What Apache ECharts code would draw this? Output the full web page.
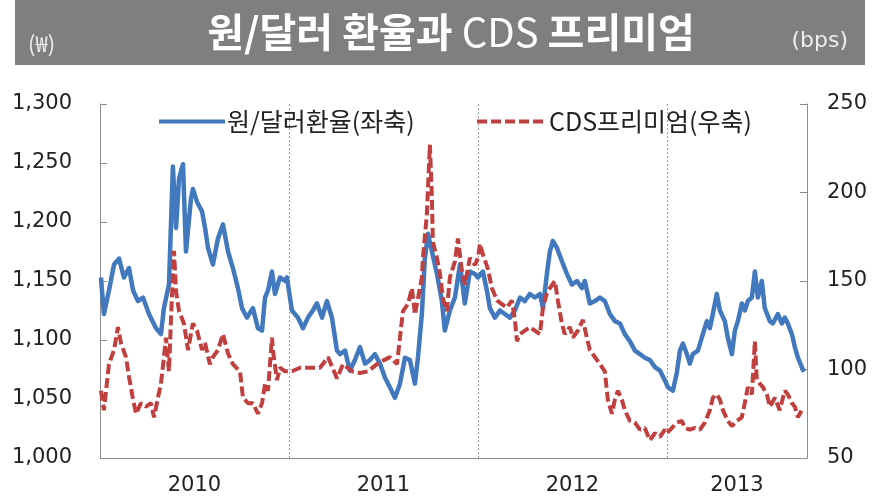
<!DOCTYPE html>
<html>
<head>
<meta charset="utf-8">
<script src="https://cdn.jsdelivr.net/npm/echarts@6/dist/echarts.min.js"></script>
<style>
  html, body { margin: 0; padding: 0; background: #ffffff; }
  #chart { width: 884px; height: 498px; }
</style>
</head>
<body>
<div id="chart"></div>
<script>
// Time runs in months from January 2010; the series ends in mid-September 2013.
const periodEnd = 44.9;
const yearStarts = [0, 12, 24, 36];
const yearLabels = ['2010', '2011', '2012', '2013'];

// Left axis: won per dollar
const rateTicks = { min: 1000, max: 1300, step: 50 };
// Right axis: CDS premium in basis points
const cdsTicks = { min: 50, max: 250, step: 50 };

// 원/달러 환율 [month, KRW per USD]
const krwUsd = [
  [0.06, 1153], [0.25, 1122], [0.57, 1142], [0.89, 1164], [1.21, 1169], [1.52, 1153],
  [1.84, 1161], [2.10, 1142], [2.41, 1133], [2.73, 1136], [3.11, 1122], [3.56, 1110],
  [3.87, 1105], [4.06, 1127], [4.38, 1147], [4.63, 1247], [4.83, 1195], [5.02, 1237],
  [5.27, 1249], [5.46, 1175], [5.78, 1220], [5.90, 1228], [6.16, 1217], [6.48, 1209],
  [6.67, 1195], [6.86, 1178], [7.17, 1164], [7.49, 1186], [7.81, 1198], [8.13, 1175],
  [8.44, 1161], [8.76, 1144], [9.02, 1127], [9.33, 1119], [9.71, 1127], [10.03, 1110],
  [10.29, 1108], [10.48, 1136], [10.67, 1142], [10.92, 1158], [11.11, 1139], [11.43, 1153],
  [11.75, 1150], [11.87, 1153], [12.19, 1125], [12.57, 1119], [12.89, 1110], [13.21, 1119],
  [13.52, 1125], [13.78, 1131], [14.10, 1119], [14.41, 1133], [14.73, 1119], [15.05, 1091],
  [15.24, 1088], [15.56, 1091], [15.87, 1074], [16.19, 1083], [16.51, 1094], [16.83, 1080],
  [17.14, 1083], [17.46, 1088], [17.78, 1080], [18.10, 1068], [18.41, 1060], [18.73, 1051],
  [19.05, 1063], [19.37, 1085], [19.68, 1083], [20.00, 1063], [20.19, 1085], [20.44, 1122],
  [20.63, 1169], [20.83, 1190], [21.08, 1175], [21.40, 1156], [21.71, 1133], [21.90, 1108],
  [22.22, 1125], [22.54, 1136], [22.86, 1164], [23.17, 1131], [23.49, 1158], [23.81, 1156],
  [24.00, 1153], [24.32, 1158], [24.57, 1142], [24.76, 1127], [25.08, 1119], [25.40, 1125],
  [25.71, 1122], [26.03, 1119], [26.35, 1125], [26.67, 1136], [26.98, 1133], [27.30, 1139],
  [27.62, 1136], [27.94, 1139], [28.13, 1127], [28.38, 1156], [28.57, 1175], [28.76, 1184],
  [29.02, 1178], [29.33, 1167], [29.65, 1156], [29.97, 1147], [30.29, 1150], [30.60, 1144],
  [30.79, 1150], [31.11, 1131], [31.43, 1133], [31.75, 1136], [32.06, 1133], [32.38, 1122],
  [32.70, 1116], [33.02, 1114], [33.33, 1105], [33.65, 1099], [33.97, 1091], [34.29, 1088],
  [34.60, 1085], [34.92, 1083], [35.24, 1077], [35.56, 1074], [35.87, 1066], [36.06, 1060],
  [36.38, 1057], [36.63, 1072], [36.83, 1091], [37.02, 1097], [37.27, 1088], [37.46, 1080],
  [37.65, 1088], [37.97, 1091], [38.22, 1102], [38.54, 1116], [38.73, 1110], [38.92, 1122],
  [39.17, 1139], [39.37, 1125], [39.68, 1116], [39.87, 1102], [40.13, 1088], [40.32, 1108],
  [40.51, 1116], [40.76, 1131], [40.95, 1125], [41.14, 1133], [41.40, 1136], [41.59, 1158],
  [41.78, 1136], [42.03, 1150], [42.22, 1127], [42.54, 1116], [42.73, 1114], [43.05, 1122],
  [43.30, 1114], [43.49, 1119], [43.68, 1114], [43.94, 1105], [44.13, 1094], [44.32, 1085],
  [44.57, 1077], [44.70, 1073]
];

// CDS 프리미엄 [month, bps]
const cdsPremium = [
  [0.06, 88], [0.25, 77], [0.57, 103], [0.89, 111], [1.14, 124], [1.33, 115],
  [1.65, 107], [1.84, 96], [2.10, 83], [2.29, 75], [2.60, 81], [2.92, 79],
  [3.24, 81], [3.43, 73], [3.68, 84], [3.87, 92], [4.06, 107], [4.19, 118],
  [4.38, 99], [4.51, 129], [4.70, 167], [4.83, 144], [5.02, 133], [5.33, 126],
  [5.59, 111], [5.90, 126], [6.16, 122], [6.48, 111], [6.67, 115], [6.98, 103],
  [7.17, 107], [7.49, 111], [7.81, 120], [8.13, 109], [8.44, 103], [8.89, 99],
  [9.08, 84], [9.40, 81], [9.71, 81], [10.03, 75], [10.29, 81], [10.48, 92],
  [10.67, 88], [10.92, 118], [10.98, 111], [11.24, 94], [11.43, 101], [11.75, 99],
  [12.19, 99], [12.70, 101], [13.33, 101], [13.97, 101], [14.48, 107], [15.05, 95],
  [15.43, 103], [16.00, 99], [16.51, 98], [17.02, 99], [17.59, 103], [17.97, 105],
  [18.41, 107], [18.86, 103], [19.05, 118], [19.24, 133], [19.56, 137], [19.81, 146],
  [20.00, 131], [20.19, 140], [20.44, 152], [20.51, 163], [20.76, 188], [20.95, 227],
  [21.08, 197], [21.14, 172], [21.40, 163], [21.59, 154], [21.78, 140], [22.03, 133],
  [22.22, 152], [22.54, 161], [22.73, 174], [22.98, 156], [23.17, 148], [23.49, 163],
  [23.81, 159], [24.00, 163], [24.13, 171], [24.32, 165], [24.63, 157], [24.89, 146],
  [25.21, 139], [25.52, 137], [25.84, 135], [26.16, 139], [26.35, 128], [26.48, 116],
  [26.67, 120], [26.98, 122], [27.30, 124], [27.62, 122], [27.94, 120], [28.13, 135],
  [28.38, 143], [28.57, 146], [28.89, 150], [29.08, 139], [29.33, 126], [29.52, 120],
  [29.84, 124], [30.03, 118], [30.35, 122], [30.67, 128], [30.92, 118], [31.11, 111],
  [31.43, 107], [31.75, 103], [32.06, 99], [32.25, 83], [32.51, 75], [32.70, 83],
  [32.89, 88], [33.14, 83], [33.33, 77], [33.65, 71], [33.97, 70], [34.29, 66],
  [34.60, 67], [34.92, 60], [35.24, 64], [35.56, 62], [35.87, 66], [36.00, 64],
  [36.32, 67], [36.63, 70], [36.95, 71], [37.14, 67], [37.46, 66], [37.78, 67],
  [38.10, 66], [38.41, 70], [38.73, 77], [38.92, 84], [39.17, 86], [39.37, 83],
  [39.56, 77], [39.87, 71], [40.13, 68], [40.44, 71], [40.76, 73], [40.95, 81],
  [41.14, 90], [41.40, 86], [41.59, 116], [41.71, 94], [41.90, 92], [42.10, 90],
  [42.35, 86], [42.54, 79], [42.86, 84], [43.17, 77], [43.49, 88], [43.68, 86],
  [43.94, 81], [44.13, 79], [44.32, 73], [44.57, 77], [44.70, 77]
];

const seriesNames = ['원/달러환율(좌축)', 'CDS프리미엄(우축)'];
const blue = '#4178BE';
const red = '#C0403F';
const axisGray = '#8c8c8c';
const numFont = 'DejaVu Sans';
const krFont = 'Noto Sans CJK KR';

// Year labels sit in the middle of each year's span (the last year is partial)
const yearLabelPos = yearStarts.map(s => (s + Math.min(s + 12, periodEnd)) / 2);
const yearLabelAt = {};
yearLabelPos.forEach((p, i) => { yearLabelAt[p.toFixed(3)] = yearLabels[i]; });

const legendBase = {
  itemHeight: 14, itemGap: 0,
  itemStyle: { opacity: 0 },
  lineStyle: { width: 4 },
  textStyle: { fontFamily: krFont, fontSize: 25, color: '#222222', padding: [0, 0, 0, -3] }
};

const chart = echarts.init(document.getElementById('chart'), null, { renderer: 'canvas' });

chart.setOption({
  animation: false,
  backgroundColor: '#ffffff',
  title: {
    text: '{b|원/달러 환율과 }{n|CDS}{b| 프리미엄}',
    left: 446,
    top: 3,
    textAlign: 'center',
    textStyle: {
      rich: {
        b: { fontFamily: krFont, fontWeight: 'bold', fontSize: 40, color: '#ffffff', lineHeight: 48 },
        n: { fontFamily: krFont, fontWeight: 'normal', fontSize: 40, color: '#ffffff', lineHeight: 48 }
      }
    }
  },
  graphic: [
    {
      type: 'rect', z: -1, silent: true,
      shape: { x: 15, y: 0, width: 850, height: 65 },
      style: { fill: '#7f7f7f' }
    },
    {
      type: 'text', left: 28, top: 33, silent: true,
      style: { text: '(₩)', fill: '#eeeeee', font: 'normal 22px "Noto Sans CJK KR"' }
    },
    {
      type: 'text', right: 36, top: 30, silent: true,
      style: { text: '(bps)', fill: '#eeeeee', font: 'normal 22px "DejaVu Sans"' }
    }
  ],
  legend: [
    Object.assign({ data: [seriesNames[0]], left: 152, top: 104, itemWidth: 66 }, legendBase),
    Object.assign({ data: [seriesNames[1]], left: 470, top: 104, itemWidth: 70 }, legendBase)
  ],
  grid: { left: 100, right: 77, top: 104, bottom: 40, containLabel: false },
  xAxis: {
    type: 'value',
    min: 0,
    max: periodEnd,
    interval: 12,
    axisLine: { show: true, lineStyle: { color: axisGray, width: 1 } },
    axisTick: { show: false },
    splitLine: { show: true, lineStyle: { color: '#9a9a9a', type: [2, 2], width: 1 } },
    axisLabel: {
      customValues: yearLabelPos,
      formatter: v => yearLabelAt[Number(v).toFixed(3)] || '',
      fontFamily: numFont, fontSize: 21, color: '#222222', margin: 17
    }
  },
  yAxis: [
    {
      type: 'value',
      position: 'left',
      min: rateTicks.min, max: rateTicks.max, interval: rateTicks.step,
      axisLine: { show: true, lineStyle: { color: axisGray, width: 1 } },
      axisTick: { show: true, inside: true, length: 7, lineStyle: { color: axisGray } },
      splitLine: { show: false },
      axisLabel: {
        formatter: v => v.toLocaleString('en-US'),
        fontFamily: numFont, fontSize: 21, color: '#222222', margin: 28
      }
    },
    {
      type: 'value',
      position: 'right',
      min: cdsTicks.min, max: cdsTicks.max, interval: cdsTicks.step,
      axisLine: { show: true, lineStyle: { color: axisGray, width: 1 } },
      axisTick: { show: true, inside: true, length: 7, lineStyle: { color: axisGray } },
      splitLine: { show: false },
      axisLabel: { fontFamily: numFont, fontSize: 21, color: '#222222', margin: 20 }
    }
  ],
  series: [
    {
      name: seriesNames[0],
      type: 'line',
      yAxisIndex: 0,
      data: krwUsd,
      symbol: 'none',
      color: blue,
      lineStyle: { color: blue, width: 4.5, join: 'round' }
    },
    {
      name: seriesNames[1],
      type: 'line',
      yAxisIndex: 1,
      data: cdsPremium,
      symbol: 'none',
      color: red,
      lineStyle: { color: red, width: 4, type: [10, 4] }
    }
  ]
});
</script>
</body>
</html>
